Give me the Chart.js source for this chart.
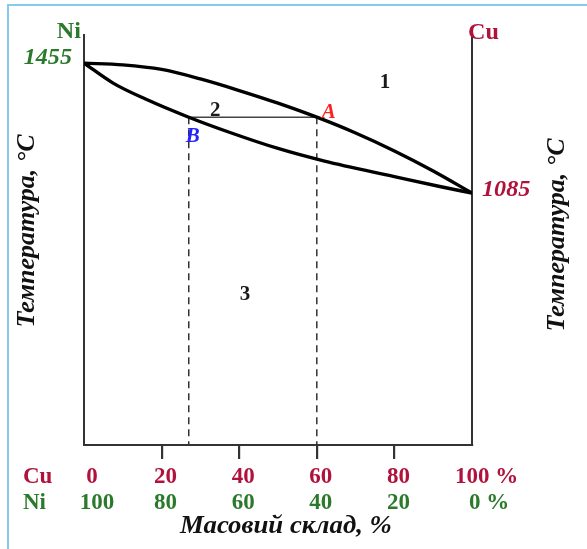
<!DOCTYPE html>
<html><head><meta charset="utf-8">
<script src="https://cdn.jsdelivr.net/npm/chart.js@4/dist/chart.umd.min.js"></script>
<style>
html,body{margin:0;padding:0;background:#fff;}
#wrap{position:relative;width:587px;height:549px;overflow:hidden;}
#frame{position:absolute;left:7px;top:4px;width:600px;height:600px;border-left:2px solid #86cbef;border-top:2px solid #86cbef;}
canvas{position:absolute;left:0;top:0;}
</style></head><body>
<div id="wrap"><div id="frame"></div><canvas id="c" width="587" height="549"></canvas></div>
<script>
// ---- data ----
const cuTicks = [0, 20, 40, 60, 80, 100];
const niTicks = [100, 80, 60, 40, 20, 0];
const liquidusCu = [0, 10, 20, 30, 40, 50, 60, 70, 80, 90, 100];
const liquidusT  = [1455, 1450, 1437, 1410, 1377, 1341, 1301, 1256, 1205, 1148, 1085];
const solidusCu  = [0, 7.5, 16, 27, 38, 50, 62, 80, 92, 100];
const solidusT   = [1455, 1398, 1352, 1301, 1256, 1212, 1176, 1132, 1103, 1085];
const meltNi = 1455, meltCu = 1085;
const tieT = 1301, pointA = 60, pointB = 27;
const tMin = 368, tMax = 1535;

const toXY = (xs, ys) => xs.map((v, i) => ({x: v, y: ys[i]}));
const RED = '#b0123c', GREEN = '#2b7a2b';
const SERIF = '"Liberation Serif", "Times New Roman", serif';

function txt(ctx, s, x, y, font, color, align = 'center', sx = 1.05) {
  ctx.save();
  ctx.font = font; ctx.fillStyle = color; ctx.textAlign = align; ctx.textBaseline = 'middle';
  ctx.translate(x, y); ctx.scale(sx, 1); ctx.fillText(s, 0, 0);
  ctx.restore();
}

const labelsPlugin = {
  id: 'labels',
  afterDraw(chart) {
    const ctx = chart.ctx;
    const x = chart.scales.x, y = chart.scales.y;
    const left = chart.chartArea.left, right = chart.chartArea.right, top = chart.chartArea.top;
    const fb = `bold 23px ${SERIF}`;
    const fbi = `italic bold 23px ${SERIF}`;
    // element headers
    txt(ctx, 'Ni', left - 3, top - 3, fb, GREEN, 'right');
    txt(ctx, 'Cu', right - 4, top - 2, fb, RED, 'left');
    // melting points
    txt(ctx, String(meltNi), left - 12, y.getPixelForValue(meltNi) - 5, fbi, GREEN, 'right');
    txt(ctx, String(meltCu), right + 10, y.getPixelForValue(meltCu) - 3, fbi, RED, 'left');
    // bottom composition rows
    const rowCu = 477, rowNi = 503;
    txt(ctx, 'Cu', 23, rowCu, fb, RED, 'left', 1.0);
    txt(ctx, 'Ni', 23, rowNi, fb, GREEN, 'left', 1.0);
    cuTicks.forEach((v, i) => {
      const px = x.getPixelForValue(v);
      const last = i === cuTicks.length - 1;
      const off = i === 0 ? 8 : 4;
      const offNi = i === 0 ? 13 : 4;
      if (last) {
        txt(ctx, cuTicks[i] + ' %', px - 17, rowCu, fb, RED, 'left', 1.0);
        txt(ctx, niTicks[i] + ' %', px - 3, rowNi, fb, GREEN, 'left', 1.0);
      } else {
        txt(ctx, String(cuTicks[i]), px + off, rowCu, fb, RED, 'center', 1.0);
        txt(ctx, String(niTicks[i]), px + offNi, rowNi, fb, GREEN, 'center', 1.0);
      }
    });
    txt(ctx, 'Масовий склад, %', 286, 527, `italic bold 25px ${SERIF}`, '#111', 'center', 1.07);
    // axis titles (rotated)
    [[27, 231], [557, 235]].forEach(([cx, cy]) => {
      ctx.save();
      ctx.translate(cx, cy); ctx.rotate(-Math.PI / 2);
      ctx.font = `italic bold 26px ${SERIF}`; ctx.fillStyle = '#111';
      ctx.textAlign = 'center'; ctx.textBaseline = 'middle';
      ctx.fillText('Температура, °C', 0, 0);
      ctx.restore();
    });
    // region labels
    const fr = `bold 20px ${SERIF}`;
    txt(ctx, '1', x.getPixelForValue(77.6), y.getPixelForValue(1398), fr, '#1a1a1a');
    txt(ctx, '2', x.getPixelForValue(33.8), y.getPixelForValue(1318), fr, '#1a1a1a');
    txt(ctx, '3', x.getPixelForValue(41.5), y.getPixelForValue(795), fr, '#1a1a1a');
    // point labels
    const ax = x.getPixelForValue(pointA), bx = x.getPixelForValue(pointB), ty = y.getPixelForValue(tieT);
    txt(ctx, 'A', ax + 12, ty - 4, `italic bold 20px ${SERIF}`, '#ff2020');
    txt(ctx, 'B', bx + 4, ty + 20, `italic bold 20px ${SERIF}`, '#2323ff');
  }
};

const zeroSize = s => { if (s.isHorizontal()) s.height = 0; else s.width = 0; };

new Chart(document.getElementById('c'), {
  type: 'line',
  data: {
    datasets: [
      {data: toXY(liquidusCu, liquidusT), borderColor: '#000', borderWidth: 3.4, pointRadius: 0, cubicInterpolationMode: 'monotone', fill: false},
      {data: toXY(solidusCu, solidusT), borderColor: '#000', borderWidth: 3.4, pointRadius: 0, cubicInterpolationMode: 'monotone', fill: false},
      {data: [{x: pointB, y: tieT}, {x: pointA, y: tieT}], borderColor: '#444', borderWidth: 1.4, pointRadius: 0},
      {data: [{x: pointA, y: tieT}, {x: pointA, y: tMin}], borderColor: '#333', borderWidth: 1.5, borderDash: [7, 5], pointRadius: 0},
      {data: [{x: pointB, y: tieT}, {x: pointB, y: tMin}], borderColor: '#333', borderWidth: 1.5, borderDash: [7, 5], pointRadius: 0}
    ]
  },
  options: {
    responsive: false,
    animation: false,
    events: [],
    layout: {padding: {left: 84, right: 115, top: 35, bottom: 104}},
    plugins: {legend: {display: false}, tooltip: {enabled: false}},
    scales: {
      x: {
        type: 'linear', min: 0, max: 100,
        afterFit: zeroSize,
        ticks: {display: false, stepSize: 20},
        grid: {drawOnChartArea: false, drawTicks: true, tickLength: 14, lineWidth: 2.2,
               color: c => (c.tick && (c.tick.value === 0 || c.tick.value === 100)) ? 'rgba(0,0,0,0)' : '#333'},
        border: {display: true, color: '#333', width: 2}
      },
      y: {
        type: 'linear', min: tMin, max: tMax, position: 'left',
        afterFit: zeroSize,
        ticks: {display: false},
        grid: {display: false},
        border: {display: true, color: '#333', width: 2}
      },
      y2: {
        type: 'linear', min: tMin, max: tMax, position: 'right',
        afterFit: zeroSize,
        ticks: {display: false},
        grid: {display: false},
        border: {display: true, color: '#333', width: 2}
      }
    }
  },
  plugins: [labelsPlugin]
});
</script>
</body></html>
